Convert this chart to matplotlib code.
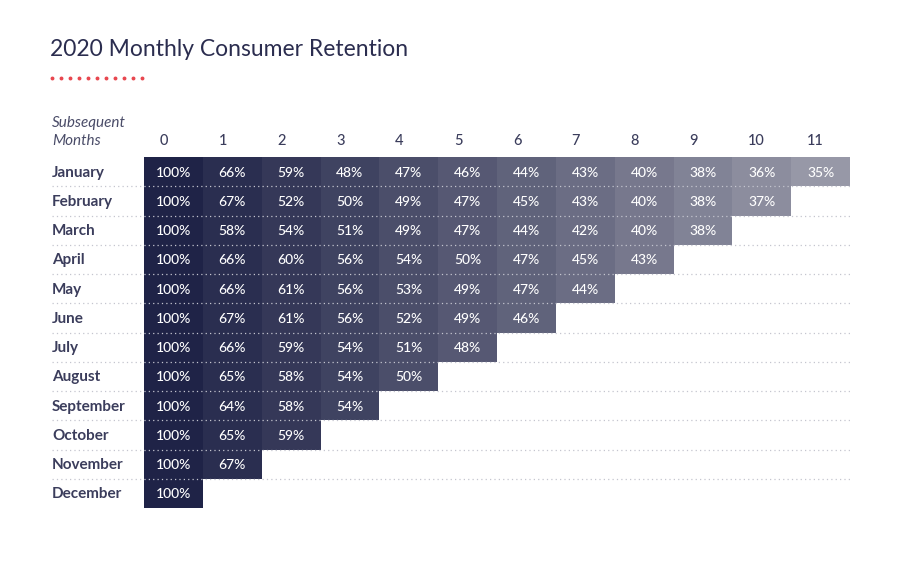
import numpy as np
import matplotlib
matplotlib.use('Agg')
import matplotlib.pyplot as plt
from matplotlib.colors import LinearSegmentedColormap
from matplotlib.transforms import blended_transform_factory

plt.rcParams['font.family'] = ['Lato', 'DejaVu Sans']

title = '2020 Monthly Consumer Retention'
months = ['January', 'February', 'March', 'April', 'May', 'June',
          'July', 'August', 'September', 'October', 'November', 'December']
periods = list(range(12))
retention = [
    [100, 66, 59, 48, 47, 46, 44, 43, 40, 38, 36, 35],
    [100, 67, 52, 50, 49, 47, 45, 43, 40, 38, 37],
    [100, 58, 54, 51, 49, 47, 44, 42, 40, 38],
    [100, 66, 60, 56, 54, 50, 47, 45, 43],
    [100, 66, 61, 56, 53, 49, 47, 44],
    [100, 67, 61, 56, 52, 49, 46],
    [100, 66, 59, 54, 51, 48],
    [100, 65, 58, 54, 50],
    [100, 64, 58, 54],
    [100, 65, 59],
    [100, 67],
    [100],
]

W, H = 900, 566
fig = plt.figure(figsize=(W / 100, H / 100), dpi=100)
fig.patch.set_facecolor('white')

# grid area in pixels: x 144..850, y 157..508
ax = fig.add_axes([144 / W, 1 - 508 / H, 706 / W, 351 / H])
ax.set_xlim(0, 12)
ax.set_ylim(11.5, -0.5)
ax.axis('off')

cmap = LinearSegmentedColormap.from_list('ret', ['#1f2347', '#9798a7'])
col_colors = [cmap(c / 11) for c in periods]

for r, row in enumerate(retention):
    n = len(row)
    ax.barh(r, [1] * n, left=periods[:n], height=1.0,
            color=col_colors[:n], edgecolor='none', zorder=1)
    for c, v in enumerate(row):
        ax.text(c + 0.5, r + 0.03, f'{v}%', ha='center', va='center',
                color='white', fontsize=10, fontweight='medium', zorder=3)

# dotted row separators
fx = blended_transform_factory(fig.transFigure, ax.transData)
for r in range(len(months) - 1):
    ax.plot([52 / W, 850 / W], [r + 0.5, r + 0.5], transform=fx,
            color='#c4c5cf', lw=0.9, ls=(0, (1, 2.5)), zorder=2,
            clip_on=False)

# row labels
for r, m in enumerate(months):
    ax.text(52 / W, r + 0.03, m, transform=fx, ha='left', va='center',
            color='#3b3d5c', fontsize=11, fontweight='bold')

# column headers
for c in periods:
    ax.text(c + 0.27, -1.05, str(c), ha='left', va='center',
            color='#3b3d5c', fontsize=10.5, fontweight='medium', clip_on=False)

fig.text(52 / W, 1 - 123 / H, 'Subsequent', ha='left', va='center',
         color='#4a4c68', fontsize=11, style='italic')
fig.text(52 / W, 1 - 141 / H, 'Months', ha='left', va='center',
         color='#4a4c68', fontsize=11, style='italic')

fig.text(50 / W, 1 - 49 / H, title, ha='left', va='center',
         color='#2b2d4f', fontsize=16.5, fontweight='normal')

# red dotted accent under the title
dots_x = np.linspace(52, 142, 11) / W
fig.lines.append(plt.Line2D(dots_x, [1 - 78 / H] * len(dots_x),
                            transform=fig.transFigure, ls='none',
                            marker='o', ms=1.8, color='#e8474f'))

fig.savefig('out.png', dpi=100, facecolor='white')
